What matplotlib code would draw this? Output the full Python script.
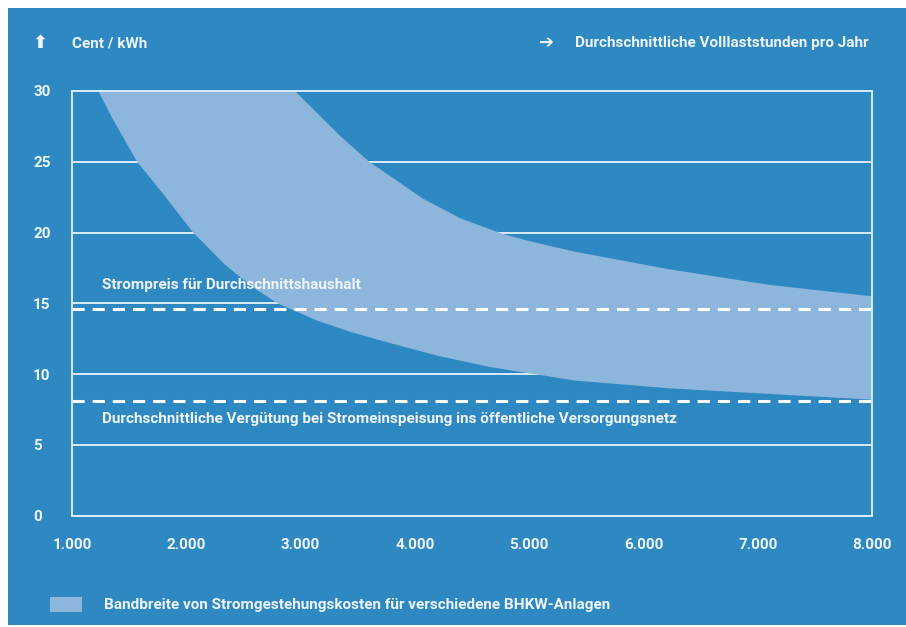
import matplotlib
matplotlib.use("Agg")
import matplotlib.pyplot as plt
from matplotlib.patches import Rectangle

# Volllaststunden (h/Jahr) und Stromgestehungskosten (Cent/kWh)
lower_hours = [1230, 1350, 1570, 1800, 2060, 2330, 2570, 2800, 3140, 3430, 3780,
               4200, 4660, 5400, 6230, 7110, 8000]
lower_cost = [30.0, 28.1, 25.0, 22.7, 20.0, 17.8, 16.2, 15.0, 13.8, 13.0, 12.2,
              11.3, 10.5, 9.55, 9.0, 8.6, 8.2]
upper_hours = [2950, 3350, 3600, 3800, 4070, 4400, 4770, 5000, 5400, 6230, 7110, 8000]
upper_cost = [30.0, 26.8, 25.0, 23.9, 22.4, 21.0, 19.9, 19.4, 18.65, 17.4, 16.3, 15.5]

strompreis_haushalt = 14.6
einspeiseverguetung = 8.1

x_ticks = [1000, 2000, 3000, 4000, 5000, 6000, 7000, 8000]
x_labels = ["1.000", "2.000", "3.000", "4.000", "5.000", "6.000", "7.000", "8.000"]
y_ticks = [0, 5, 10, 15, 20, 25, 30]

BLUE = "#2e88c1"
BAND = "#8cb6dc"
LINE = "#d9ecf8"
TXT = "#eef5fb"
FONT = ["Roboto", "DejaVu Sans"]
FS = 11

plt.rcParams["font.family"] = FONT
plt.rcParams["font.weight"] = "bold"

fig = plt.figure(figsize=(9.06, 6.27), dpi=100)
fig.patch.set_facecolor("white")
fig.add_artist(Rectangle((8 / 906, 0.003), 1, 0.984, transform=fig.transFigure,
                         facecolor=BLUE, edgecolor="none", zorder=0))

ax = fig.add_axes([0.0795, 0.1774, 0.883, 0.6775])
ax.set_facecolor(BLUE)
ax.set_xlim(1000, 8000)
ax.set_ylim(0, 30)

# Gitterlinien liegen unter dem Band
for y in y_ticks[1:-1]:
    ax.axhline(y, color=LINE, lw=1.4, zorder=0.5)

# Band der Stromgestehungskosten als geschlossene Fläche
band_x = lower_hours + upper_hours[::-1]
band_y = lower_cost + upper_cost[::-1]
ax.fill(band_x, band_y, color=BAND, lw=0, zorder=1)

for y in (strompreis_haushalt, einspeiseverguetung):
    ax.axhline(y, color="white", lw=2.2, dashes=(4, 2.6), zorder=2)

for s in ax.spines.values():
    s.set_color(LINE)
    s.set_linewidth(1.4)
    s.set_zorder(3)

ax.set_xticks(x_ticks)
ax.set_xticklabels(x_labels)
ax.set_yticks(y_ticks)
ax.tick_params(length=0, colors=TXT, labelsize=FS)
ax.tick_params(axis="x", pad=16)
for lab in ax.get_yticklabels():
    lab.set_horizontalalignment("left")
ax.tick_params(axis="y", pad=28)

ax.text(1262, 16.3, "Strompreis für Durchschnittshaushalt", color=TXT,
        fontsize=FS, va="center", zorder=4)
ax.text(1262, 6.85,
        "Durchschnittliche Vergütung bei Stromeinspeisung ins öffentliche Versorgungsnetz",
        color=TXT, fontsize=FS, va="center", zorder=4)

# Achsenbeschriftungen oben
fig.text(40 / 906, 1 - 43 / 627, "⬆", color=TXT, fontsize=13, ha="center",
         va="center", family="DejaVu Sans")
fig.text(72 / 906, 1 - 43 / 627, "Cent / kWh", color=TXT, fontsize=FS, va="center")
fig.text(869 / 906, 1 - 43 / 627, "Durchschnittliche Volllaststunden pro Jahr",
         color=TXT, fontsize=FS, ha="right", va="center")
fig.text(547 / 906, 1 - 43 / 627, "➔", color=TXT, fontsize=13, ha="center",
         va="center", family="DejaVu Sans")

# Legende
fig.add_artist(Rectangle((50 / 906, 1 - 612 / 627), 32 / 906, 15 / 627,
                         transform=fig.transFigure, facecolor=BAND, edgecolor="none"))
fig.text(104 / 906, 1 - 605 / 627,
         "Bandbreite von Stromgestehungskosten für verschiedene BHKW-Anlagen",
         color=TXT, fontsize=FS, va="center")

fig.savefig("out.png", dpi=100)
